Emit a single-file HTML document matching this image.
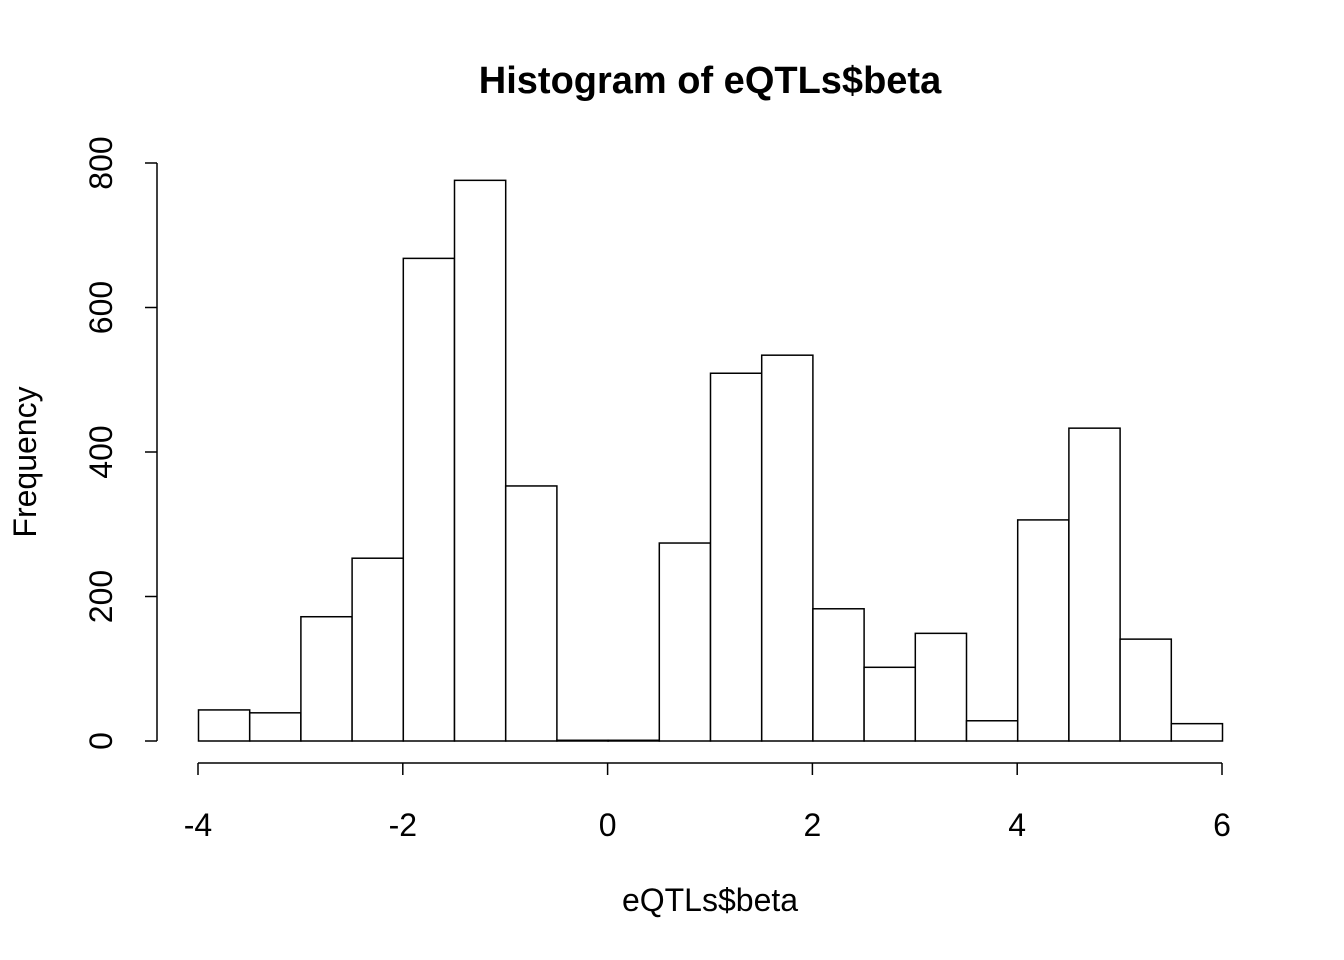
<!DOCTYPE html>
<html><head><meta charset="utf-8"><style>
html,body{margin:0;padding:0;background:#fff;}
svg{display:block;font-family:"Liberation Sans",sans-serif;}
</style></head><body>
<svg id="chart" width="1344" height="960" viewBox="0 0 1344 960">
<text x="710" y="93" text-anchor="middle" font-size="38" font-weight="bold">Histogram of eQTLs$beta</text>
<text x="710" y="911" text-anchor="middle" font-size="32">eQTLs$beta</text>
<text transform="translate(36,462) rotate(-90)" text-anchor="middle" font-size="32">Frequency</text>
<g id="bars"></g>
<g id="axes"></g>
</svg>
<script>
const binStarts = [-4,-3.5,-3,-2.5,-2,-1.5,-1,-0.5,0,0.5,1,1.5,2,2.5,3,3.5,4,4.5,5,5.5];
const counts = [43,39,172,253,668,776,353,1,1,274,509,534,183,102,149,28,306,433,141,24];
const binWidth = 0.5;
const xTicks = [-4,-2,0,2,4,6];
const yTicks = [0,200,400,600,800];
const NS = "http://www.w3.org/2000/svg";
function xs(v){return 198 + (v+4)*102.4;}
function ys(v){return 741 - v*0.7225;}
const bars = document.getElementById('bars');
binStarts.forEach((b,i)=>{
  const r = document.createElementNS(NS,'rect');
  r.setAttribute('x', xs(b)+0.5);
  r.setAttribute('y', ys(counts[i]));
  r.setAttribute('width', xs(b+binWidth)-xs(b));
  r.setAttribute('height', ys(0)-ys(counts[i]));
  r.setAttribute('fill','#fff');
  r.setAttribute('stroke','#000');
  r.setAttribute('stroke-width','1.5');
  
  
  bars.appendChild(r);
});
const axes = document.getElementById('axes');
function line(x1,y1,x2,y2,name){
  const l=document.createElementNS(NS,'line');
  l.setAttribute('x1',x1);l.setAttribute('y1',y1);l.setAttribute('x2',x2);l.setAttribute('y2',y2);
  l.setAttribute('stroke','#000');l.setAttribute('stroke-width','1.5');
  
  
  axes.appendChild(l);
}
line(xs(xTicks[0]),763,xs(xTicks[xTicks.length-1]),763,'x-axis-line');
xTicks.forEach(t=>{
  line(xs(t),763,xs(t),775,'x-tick');
  const tx=document.createElementNS(NS,'text');
  tx.setAttribute('x',xs(t));tx.setAttribute('y',836);
  tx.setAttribute('text-anchor','middle');tx.setAttribute('font-size','32');
  tx.textContent=t;
  
  
  axes.appendChild(tx);
});
line(157,ys(yTicks[0]),157,ys(yTicks[yTicks.length-1]),'y-axis-line');
yTicks.forEach(t=>{
  line(145,ys(t),157,ys(t),'y-tick');
  const tx=document.createElementNS(NS,'text');
  tx.setAttribute('transform','translate(112,'+ys(t)+') rotate(-90)');
  tx.setAttribute('text-anchor','middle');tx.setAttribute('font-size','32');
  tx.textContent=t;
  
  
  axes.appendChild(tx);
});
</script>
</body></html>
